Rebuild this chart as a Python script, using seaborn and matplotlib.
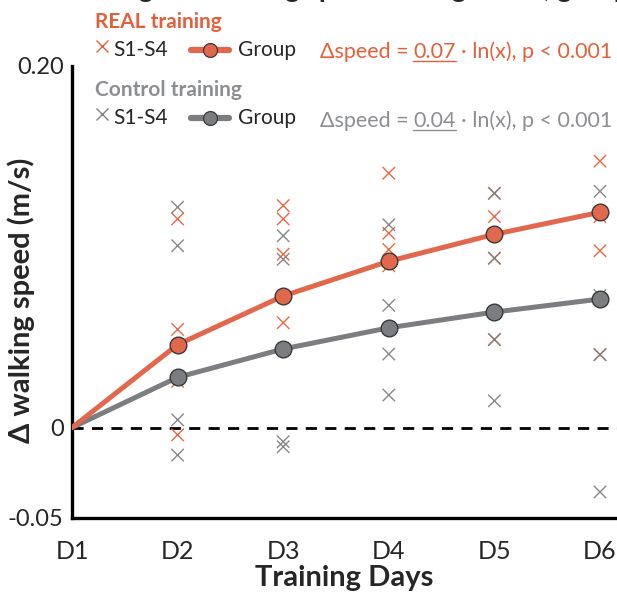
"""
Walking speed change over training days, REAL vs control training
"""

import numpy as np
import pandas as pd
import matplotlib
matplotlib.use("Agg")
import matplotlib.pyplot as plt
import seaborn as sns
from matplotlib.lines import Line2D

# ---- data ----
days = ["D1", "D2", "D3", "D4", "D5", "D6"]
day_num = [1, 2, 3, 4, 5, 6]

real_group = [0.0, 0.0459, 0.0728, 0.0920, 0.1069, 0.1191]
ctrl_group = [0.0, 0.0278, 0.0435, 0.0552, 0.0639, 0.0711]

# individual subjects S1-S4 (D2..D6)
subj_days = [2, 3, 4, 5, 6]
real_d2 = [0.1154, 0.0543, 0.0256, -0.0040]
real_d3 = [0.1228, 0.1154, 0.0959, 0.0580]
real_d4 = [0.1407, 0.1075, 0.0985, 0.0895]
real_d5 = [0.1296, 0.1167, 0.0937, 0.0487]
real_d6 = [0.1474, 0.1167, 0.0978, 0.0404]

ctrl_d2 = [0.1219, 0.1006, 0.0043, -0.0152]
ctrl_d3 = [0.1061, 0.0931, -0.0078, -0.0106]
ctrl_d4 = [0.1122, 0.0676, 0.0407, 0.0180]
ctrl_d5 = [0.1296, 0.0937, 0.0487, 0.0148]
ctrl_d6 = [0.1307, 0.0730, 0.0404, -0.0356]

real_coef = "0.07"
ctrl_coef = "0.04"

ORANGE = "#E1684C"
ORANGE_X = "#E8603A"
ORANGE_TXT = "#E4603A"
GREY = "#7B7D80"
GREY_X = "#7F8183"
GREY_TXT = "#8C8E91"

sns.set_style("white")
plt.rcParams["font.family"] = ["Lato", "DejaVu Sans"]

W, H = 617, 594
fig = plt.figure(figsize=(W / 100, H / 100), dpi=100)
# axes: x from px 72 to right edge, y from px 66 (0.20) to 518 (-0.05)
ax = fig.add_axes([72 / W, (H - 518) / H, (W - 72) / W, (518 - 66) / H])


def long_df(lists, group):
    rows = []
    for d, vals in zip(subj_days, lists):
        for s, v in enumerate(vals):
            rows.append({"day": d, "subject": f"S{s + 1}", "speed": v, "group": group})
    return pd.DataFrame(rows)


subj = pd.concat([
    long_df([real_d2, real_d3, real_d4, real_d5, real_d6], "REAL"),
    long_df([ctrl_d2, ctrl_d3, ctrl_d4, ctrl_d5, ctrl_d6], "Control"),
])
grp = pd.concat([
    pd.DataFrame({"day": day_num, "speed": real_group, "group": "REAL"}),
    pd.DataFrame({"day": day_num, "speed": ctrl_group, "group": "Control"}),
])

# zero line
ax.axhline(0, color="black", lw=2, ls=(0, (4, 3)), zorder=1)

# individual crosses
sns.scatterplot(data=subj, x="day", y="speed", hue="group", marker="x",
                palette={"REAL": ORANGE_X, "Control": GREY_X}, s=80,
                linewidth=1.0, alpha=0.95, legend=False, ax=ax, zorder=2)

# group lines (no marker on D1 baseline)
for g, c in [("Control", GREY), ("REAL", ORANGE)]:
    sns.lineplot(data=grp[grp["group"] == g], x="day", y="speed", color=c,
                 lw=3.6, marker="o", markersize=12, markevery=list(range(1, 6)),
                 markerfacecolor=c, markeredgecolor="#3a3a3a", markeredgewidth=1.0,
                 legend=False, ax=ax, zorder=3)

ax.set_xlim(1, 1 + (W - 72) / 105.6)
ax.set_ylim(-0.05, 0.20)
ax.set_xticks(day_num)
ax.set_xticklabels(days)
ax.set_yticks([-0.05, 0, 0.20])
ax.set_yticklabels(["-0.05", "0", "0.20"])
ax.tick_params(axis="x", length=0, labelsize=18, pad=16)
ax.tick_params(axis="y", direction="in", length=6, width=2, labelsize=17, pad=6)
for sp in ["top", "right"]:
    ax.spines[sp].set_visible(False)
for sp in ["left", "bottom"]:
    ax.spines[sp].set_linewidth(2.4)
    ax.spines[sp].set_color("black")
ax.set_xlabel("Training Days", fontsize=21, fontweight="bold", labelpad=1)
ax.set_ylabel("Δ walking speed (m/s)", fontsize=21, fontweight="bold")
ax.yaxis.set_label_coords(-37 / 545, (518 - 300) / 452)


# ---- custom legend / header (figure pixel coords) ----
def fx(px):
    return px / W


def fy(py):
    return 1 - py / H


for label, y0, col, lcol, xcol in [("REAL training", 22, ORANGE_TXT, ORANGE, ORANGE_X),
                                   ("Control training", 90, GREY_TXT, GREY, GREY_X)]:
    fig.text(fx(95), fy(y0), label, color=col, fontsize=15, fontweight="bold",
             ha="left", va="center")
    yr = y0 + 28
    fig.add_artist(Line2D([fx(102)], [fy(yr - 4)], marker="x", color=xcol,
                          markersize=8, mew=1.0, transform=fig.transFigure))
    fig.text(fx(113), fy(yr), "S1-S4", fontsize=15, ha="left", va="center")
    fig.add_artist(Line2D([fx(191), fx(229)], [fy(yr), fy(yr)], color=lcol, lw=4.5,
                          transform=fig.transFigure))
    fig.add_artist(Line2D([fx(210)], [fy(yr)], marker="o", color=lcol, markersize=10,
                          markeredgecolor="#3a3a3a", mew=0.9, transform=fig.transFigure))
    fig.text(fx(238), fy(yr), "Group", fontsize=15, ha="left", va="center")

fig.canvas.draw()
renderer = fig.canvas.get_renderer()

# title, cut off at the top edge of the panel: only descenders remain visible
title = "Change in walking speed during rehab, group performance"
prefix = fig.text(0, 0, "Change in walkin", fontsize=20, fontweight="bold")
shift = prefix.get_window_extent(renderer).width
prefix.remove()
fig.text(fx(285 - shift), fy(-3), title, fontsize=20, fontweight="bold",
         ha="left", va="baseline")


def equation(yb, coef, color):
    parts = ["Δspeed =", coef, "· ln(x), p < 0.001"]
    gap = 5
    texts = [fig.text(0, fy(yb), p, color=color, fontsize=15.5, ha="left", va="baseline")
             for p in parts]
    widths = [t.get_window_extent(renderer).width for t in texts]
    x = 612 - sum(widths) - gap * (len(parts) - 1)
    for t, w in zip(texts, widths):
        t.set_x(fx(x))
        if t.get_text() == coef:
            fig.add_artist(Line2D([fx(x), fx(x + w)], [fy(yb + 3), fy(yb + 3)],
                                  color=color, lw=1.0, transform=fig.transFigure))
        x += w + gap


equation(58, real_coef, ORANGE_TXT)
equation(127, ctrl_coef, GREY_TXT)

fig.savefig("out.png", dpi=100)
plt.close(fig)
